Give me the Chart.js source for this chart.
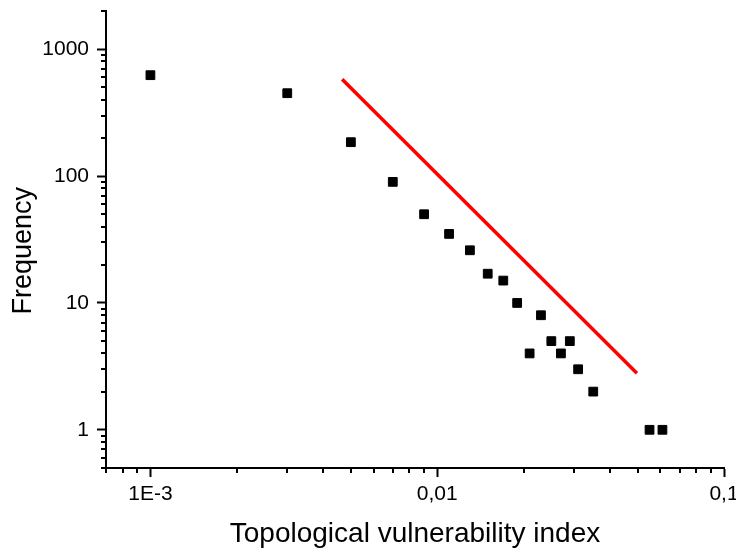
<!DOCTYPE html>
<html>
<head>
<meta charset="utf-8">
<script src="https://cdn.jsdelivr.net/npm/chart.js@4/dist/chart.umd.min.js"></script>
<style>
html,body{margin:0;padding:0;background:#fff;}
#wrap{width:736px;height:553px;position:relative;}
</style>
</head>
<body>
<div id="wrap"><canvas id="c"></canvas></div>
<script>
// Data
const xValues = [0.001, 0.003, 0.005, 0.007, 0.009, 0.011, 0.013, 0.015, 0.017, 0.019, 0.021, 0.023, 0.025, 0.027, 0.029, 0.031, 0.035, 0.055, 0.061];
const yValues = [624, 450, 185, 90, 50, 35, 26, 17, 15, 10, 4, 8, 5, 4, 5, 3, 2, 1, 1];
const fitX = [0.00466, 0.0497];
const fitY = [580, 2.79];

const xTickValues = [0.001, 0.01, 0.1];
const xTickLabels = ['1E-3', '0,01', '0,1'];
const yTickValues = [1, 10, 100, 1000];
const yTickLabels = ['1', '10', '100', '1000'];
const xMinor = [0.0007, 0.0008, 0.0009, 0.002, 0.003, 0.004, 0.005, 0.006, 0.007, 0.008, 0.009,
                0.02, 0.03, 0.04, 0.05, 0.06, 0.07, 0.08, 0.09];
const yMinor = [0.5, 0.6, 0.7, 0.8, 0.9, 2, 3, 4, 5, 6, 7, 8, 9, 20, 30, 40, 50, 60, 70, 80, 90,
                200, 300, 400, 500, 600, 700, 800, 900, 2000];

const FONT = "'Liberation Sans', Arial, sans-serif";

const minorTicks = {
  id: 'minorTicks',
  afterDraw(chart) {
    const ctx = chart.ctx;
    const xs = chart.scales.x, ys = chart.scales.y;
    const area = chart.chartArea;
    ctx.save();
    ctx.strokeStyle = '#000';
    ctx.lineWidth = 2;
    ctx.beginPath();
    xMinor.forEach(v => {
      const px = Math.round(xs.getPixelForValue(v));
      ctx.moveTo(px, area.bottom);
      ctx.lineTo(px, area.bottom + 5);
    });
    yMinor.forEach(v => {
      const py = Math.round(ys.getPixelForValue(v));
      ctx.moveTo(area.left, py);
      ctx.lineTo(area.left - 5, py);
    });
    ctx.stroke();
    ctx.restore();
  }
};

function zeroPad(s) {
  s.paddingLeft = 0; s.paddingRight = 0; s.paddingTop = 0; s.paddingBottom = 0;
}

new Chart(document.getElementById('c'), {
  type: 'scatter',
  data: {
    datasets: [
      {
        label: 'Frequency',
        data: xValues.map((x, i) => ({x: x, y: yValues[i]})),
        pointStyle: 'rect',
        pointRadius: 6.2,
        backgroundColor: '#000',
        borderColor: '#000',
        borderWidth: 1
      },
      {
        type: 'line',
        label: 'Fit',
        data: fitX.map((x, i) => ({x: x, y: fitY[i]})),
        borderColor: '#ff0000',
        borderWidth: 3.5,
        pointRadius: 0,
        fill: false
      }
    ]
  },
  options: {
    responsive: true,
    maintainAspectRatio: false,
    animation: false,
    layout: {padding: {left: 0, right: 12, top: 11, bottom: 0}},
    plugins: {legend: {display: false}, tooltip: {enabled: false}},
    scales: {
      x: {
        type: 'logarithmic',
        position: 'bottom',
        min: 0.0007,
        max: 0.1,
        afterBuildTicks: s => { s.ticks = xTickValues.map(v => ({value: v})); },
        afterFit: s => { s.height = 85; zeroPad(s); },
        ticks: {
          autoSkip: false, maxRotation: 0, padding: 5,
          color: '#000',
          font: {family: FONT, size: 21},
          callback: (v, i) => xTickLabels[i]
        },
        grid: {drawOnChartArea: false, drawTicks: true, tickLength: 9, tickWidth: 2, tickColor: '#000'},
        border: {display: true, color: '#000', width: 2},
        title: {
          display: true, text: 'Topological vulnerability index',
          color: '#000', font: {family: FONT, size: 28},
          padding: {top: 2, bottom: 2}
        }
      },
      y: {
        type: 'logarithmic',
        position: 'left',
        min: 0.5,
        max: 2000,
        afterBuildTicks: s => { s.ticks = yTickValues.map(v => ({value: v})); },
        afterFit: s => { s.width = 106; zeroPad(s); },
        ticks: {
          autoSkip: false, padding: 8,
          color: '#000',
          font: {family: FONT, size: 21},
          callback: (v, i) => yTickLabels[i]
        },
        grid: {drawOnChartArea: false, drawTicks: true, tickLength: 9, tickWidth: 2, tickColor: '#000'},
        border: {display: true, color: '#000', width: 2},
        title: {
          display: true, text: 'Frequency   ',
          color: '#000', font: {family: FONT, size: 27},
          padding: {top: 7, bottom: 7}
        }
      }
    }
  },
  plugins: [minorTicks]
});
</script>
</body>
</html>
